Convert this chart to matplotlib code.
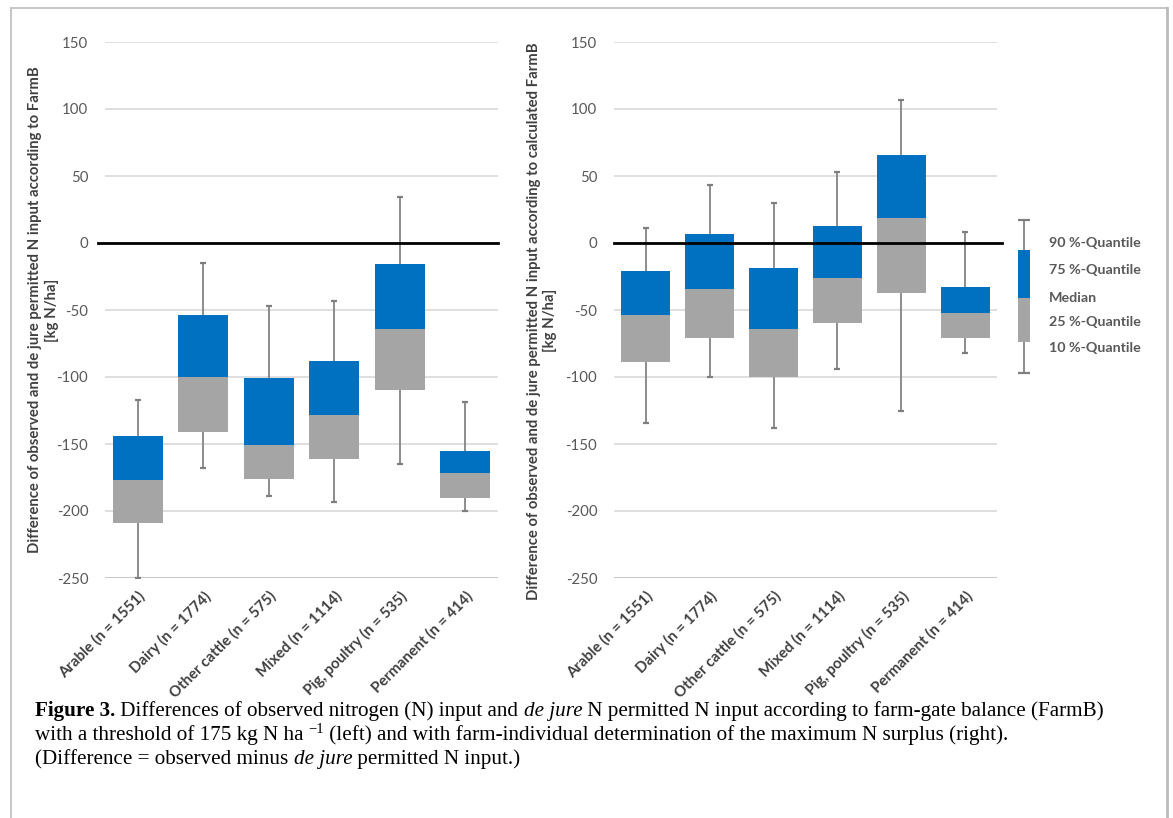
import matplotlib
matplotlib.use("Agg")
import matplotlib.pyplot as plt
from matplotlib.lines import Line2D
from matplotlib.transforms import IdentityTransform

# ---------------- data ----------------
categories = ["Arable (n = 1551)", "Dairy (n = 1774)", "Other cattle (n = 575)",
              "Mixed (n = 1114)", "Pig, poultry (n = 535)", "Permanent (n = 414)"]

# left panel: threshold 175 kg N/ha
left_q10 = [-250, -168, -189, -193, -165, -200]
left_q25 = [-209, -141, -176, -161, -110, -190]
left_med = [-177, -100, -151, -128, -64, -172]
left_q75 = [-144, -54, -101, -88, -16, -155]
left_q90 = [-117, -15, -47, -43, 34, -119]

# right panel: farm-individual maximum surplus
right_q10 = [-134, -100, -138, -94, -125, -82]
right_q25 = [-89, -71, -100, -60, -37, -71]
right_med = [-54, -34, -64, -26, 19, -52]
right_q75 = [-21, 7, -19, 13, 66, -33]
right_q90 = [11, 43, 30, 53, 107, 8]

# legend glyph (schematic quantiles, in right-panel units)
legend_q = [-97, -74, -41, -5, 17]          # q10, q25, median, q75, q90
legend_labels = ["90 %-Quantile", "75 %-Quantile", "Median", "25 %-Quantile", "10 %-Quantile"]
legend_label_y = [0, -20, -41, -59, -78]

yticks = [150, 100, 50, 0, -50, -100, -150, -200, -250]

BLUE = "#0070C0"
GREY = "#A5A5A5"
WHISK = "#8C8C8C"
TXT = "#595959"
LAB = "#404040"

plt.rcParams['font.family'] = ['Lato', 'DejaVu Sans']

fig = plt.figure(figsize=(11.73, 8.18), dpi=100)
W, H = 1173, 818

def px_axes(x0, x1, ytop, ybot):
    return fig.add_axes([x0 / W, 1 - ybot / H, (x1 - x0) / W, (ybot - ytop) / H])

axL = px_axes(105, 498, 42, 578)
axR = px_axes(614, 997, 42, 578)

def draw_panel(ax, q10, q25, med, q75, q90, ylabel, zl):
    x = list(range(len(categories)))
    ax.set_xlim(-0.5, len(categories) - 0.5)
    ax.set_ylim(-250, 150)
    ax.set_yticks(yticks)
    ax.set_yticklabels([str(t) for t in yticks])
    for t in yticks:
        ax.axhline(t, color="#D9D9D9" if t != -250 else "#BFBFBF", lw=1.2, zorder=0)
    ax.vlines(x, q10, q90, color=WHISK, lw=1.4, zorder=1)
    ax.plot(x, q10, ls="none", marker="_", ms=5, mew=1.6, color="#7F7F7F", zorder=1)
    ax.plot(x, q90, ls="none", marker="_", ms=5, mew=1.6, color="#7F7F7F", zorder=1)
    ax.bar(x, [m - a for m, a in zip(med, q25)], bottom=q25, width=0.77, color=GREY, zorder=2)
    ax.bar(x, [b - m for b, m in zip(q75, med)], bottom=med, width=0.77, color=BLUE, zorder=2)
    ax.plot(zl, [0, 0], color="black", lw=2, transform=ax.get_yaxis_transform(),
            clip_on=False, zorder=3)
    for s in ax.spines.values():
        s.set_visible(False)
    ax.tick_params(axis="y", length=0, pad=12, labelsize=10.8, labelcolor=TXT)
    ax.tick_params(axis="x", length=0, pad=8)
    ax.set_xticks(x)
    ax.set_xticklabels(categories, rotation=45, ha="right", rotation_mode="anchor",
                       fontsize=10.8, fontweight="bold", color=LAB)
    ax.set_ylabel(ylabel, fontsize=10.7, fontweight="bold", color=LAB, linespacing=1.2)

draw_panel(axL, left_q10, left_q25, left_med, left_q75, left_q90,
           "Difference of observed and de jure permitted N input according to FarmB\n[kg N/ha]",
           [-0.018, 1.0])
draw_panel(axR, right_q10, right_q25, right_med, right_q75, right_q90,
           "Difference of observed and de jure permitted N input according to calculated FarmB\n[kg N/ha]",
           [0.0, 1.013])
axL.yaxis.set_label_coords(-0.118, 0.5)
axR.yaxis.set_label_coords(-0.148, 0.48)

# legend glyph drawn in right-panel coordinates, outside the axes
lx = 5.92
axR.vlines([lx], [legend_q[0]], [legend_q[4]], color=WHISK, lw=1.4, clip_on=False, zorder=1)
axR.plot([lx, lx], [legend_q[0], legend_q[4]], ls="none", marker="_", ms=9, mew=1.6,
         color="#7F7F7F", clip_on=False)
axR.bar([lx], [legend_q[2] - legend_q[1]], bottom=[legend_q[1]], width=0.19, color=GREY,
        clip_on=False, zorder=2)
axR.bar([lx], [legend_q[3] - legend_q[2]], bottom=[legend_q[2]], width=0.19, color=BLUE,
        clip_on=False, zorder=2)
for lab, yy in zip(legend_labels, legend_label_y):
    axR.text(6.32, yy, lab, fontsize=10.3, fontweight="bold", color=TXT, ha="left",
             va="center", clip_on=False)

# frame around the figure (top, left, right)
fr = "#C8C8C8"
fig.add_artist(Line2D([11, 11], [0, H - 8], color=fr, lw=1.5, transform=IdentityTransform()))
fig.add_artist(Line2D([11, 1167], [H - 8, H - 8], color=fr, lw=1.5, transform=IdentityTransform()))
fig.add_artist(Line2D([1167, 1167], [0, H - 8], color="#BBBBBB", lw=2, transform=IdentityTransform()))

# caption with mixed styles
fig.canvas.draw()
renderer = fig.canvas.get_renderer()
CAP = dict(family=["Liberation Serif", "DejaVu Serif"], fontsize=15.25, color="black")

def segs(x, y, parts):
    for text, extra in parts:
        props = dict(CAP)
        dy = extra.pop("dy", 0) if extra else 0
        props.update(extra or {})
        t = fig.text(x, y + dy, text, transform=IdentityTransform(), va="baseline", ha="left", **props)
        bb = t.get_window_extent(renderer)
        x = bb.x1

y1 = H - 716
segs(35, y1, [("Figure 3.", {"fontweight": "bold"}),
              (" Differences of observed nitrogen (N) input and ", {}),
              ("de jure", {"style": "italic"}),
              (" N permitted N input according to farm-gate balance (FarmB)", {})])
segs(35, y1 - 24, [("with a threshold of 175 kg N ha ", {}),
                   ("\u22121", {"fontsize": 10.5, "dy": 7}),
                   (" (left) and with farm-individual determination of the maximum N surplus (right).", {})])
segs(35, y1 - 48, [("(Difference = observed minus ", {}),
                   ("de jure", {"style": "italic"}),
                   (" permitted N input.)", {})])

fig.savefig("out.png", dpi=100)
